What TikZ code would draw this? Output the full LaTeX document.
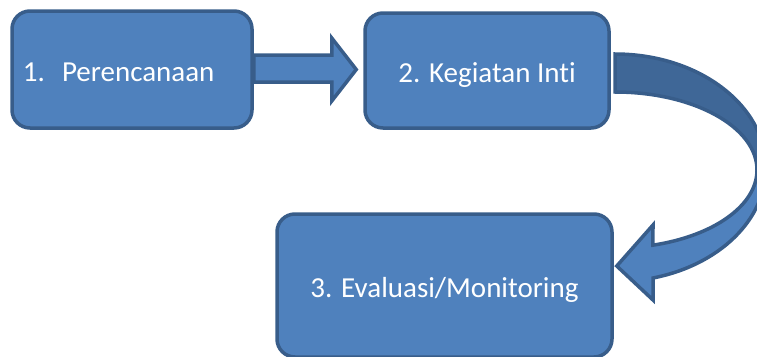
\documentclass[tikz,border=0pt]{standalone}
\usepackage{fontspec}
\setmainfont[Ligatures=NoCommon]{Carlito}
\usetikzlibrary{calc,backgrounds}
\definecolor{boxfill}{HTML}{4F81BD}
\definecolor{boxline}{HTML}{385D8A}
\definecolor{backfill}{HTML}{3F6797}
\begin{document}
\begin{tikzpicture}[x=1pt,y=-1pt,
  procbox/.style={draw=boxline, fill=boxfill, line width=3.5pt, rounded corners=18pt,
    text=white, font=\fontsize{29}{34}\selectfont, text height=23pt, text depth=0pt, inner sep=0pt},
  blockarrow/.style={draw=boxline, fill=boxfill, line width=3.5pt, line join=miter},
  backarrow/.style={draw=boxline, fill=backfill, line width=3.5pt, line join=miter},
]
\useasboundingbox (0,0) rectangle (757,356);
\clip (0,0) rectangle (757,356);

\node[procbox, minimum width=240pt, minimum height=117pt, text width=218pt, align=left]
  (b1) at (132,69.5) {1.\hspace{17pt}Perencanaan};
\node[procbox, minimum width=244pt, minimum height=115pt] (b2) at (487,70.5) {2. Kegiatan Inti};
\node[procbox, minimum width=335pt, minimum height=143pt] (b3) at (444.5,285.5) {3. Evaluasi/Monitoring};

% straight block arrow b1 -> b2
\begin{scope}[on background layer]
\draw[blockarrow]
  ($(b1.east)+(0,-14.5)$) -- ($(b1.east)+(78,-14.5)$) -- ($(b1.east)+(78,-31.5)$)
  -- ($(b2.west)+(-7,-1)$)
  -- ($(b1.east)+(78,31.5)$) -- ($(b1.east)+(78,12.5)$) -- ($(b1.east)+(0,12.5)$) -- cycle;
\end{scope}

% curved block arrow b2 -> b3
\coordinate (otop) at (615,54);
\coordinate (itop) at (615,92);
\coordinate (iright) at (757,170);
\coordinate (oend) at (653,278);
\draw[backarrow] (otop) arc[start angle=90, end angle=0, x radius=151pt, y radius=114pt]
  -- (iright) arc[start angle=0, end angle=90, x radius=142pt, y radius=78pt] -- cycle;
\draw[blockarrow] (iright) arc[start angle=0, end angle=-74.5, x radius=142pt, y radius=78pt]
  -- (653,225) -- ($(b3.east)+(3,-19.5)$) -- (653,300) -- (oend)
  arc[start angle=-75.4, end angle=0, x radius=151pt, y radius=114pt] -- cycle;
\end{tikzpicture}
\end{document}
